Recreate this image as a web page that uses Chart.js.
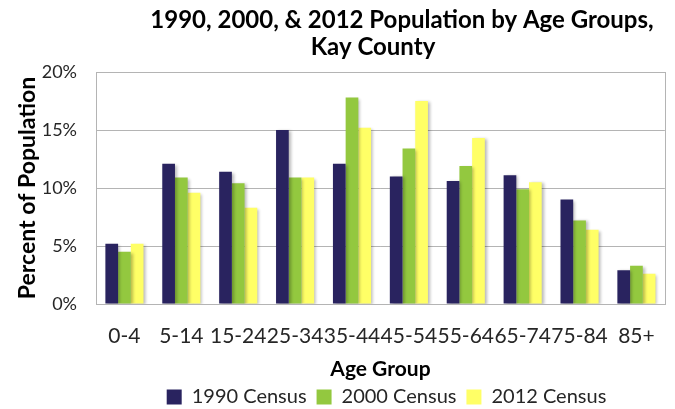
<!DOCTYPE html>
<html>
<head>
<meta charset="utf-8">
<script src="https://cdn.jsdelivr.net/npm/chart.js@4/dist/chart.umd.min.js"></script>
<style>
  html, body { margin: 0; padding: 0; background: #ffffff; }
  #wrap { width: 675px; height: 409px; }
</style>
</head>
<body>
<div id="wrap"><canvas id="chart" width="675" height="409"></canvas></div>
<script>
// Age groups and share of population (%) for each census
const ageGroups = ['0-4', '5-14', '15-24', '25-34', '35-44', '45-54', '55-64', '65-74', '75-84', '85+'];
const census1990 = [5.2, 12.1, 11.4, 15.0, 12.1, 11.0, 10.6, 11.1, 9.0, 2.9];
const census2000 = [4.5, 10.9, 10.4, 10.9, 17.8, 13.4, 11.9, 9.9, 7.2, 3.3];
const census2012 = [5.2, 9.6, 8.3, 10.9, 15.2, 17.5, 14.3, 10.5, 6.4, 2.6];
const yTicks = [0, 5, 10, 15, 20];

const titleLines = ['1990, 2000, & 2012 Population by Age Groups,', 'Kay County'];
const FONT = 'Lato, "Open Sans", sans-serif';
const TEXT = '#262626';

// Two-line chart heading
const headingPlugin = {
  id: 'heading',
  afterDraw(chart) {
    const ctx = chart.ctx;
    ctx.save();
    ctx.fillStyle = '#000000';
    ctx.font = 'bold 24px ' + FONT;
    ctx.textAlign = 'center';
    ctx.textBaseline = 'alphabetic';
    ctx.fillText(titleLines[0], 402, 28);
    ctx.fillText(titleLines[1], 373, 55);
    ctx.restore();
  }
};

// Place the legend row under the axis title
const legendShift = {
  id: 'legendShift',
  afterLayout(chart) {
    const lg = chart.legend;
    if (!lg) return;
    const dx = 52, dy = 10;
    lg.left += dx; lg.right += dx;
    lg.top += dy; lg.bottom += dy;
  }
};

// Soft shadow behind the bars and a frame round the plot area
const framePlugin = {
  id: 'frame',
  beforeDatasetsDraw(chart) {
    const ctx = chart.ctx;
    ctx.save();
    ctx.shadowColor = 'rgba(0,0,0,0.28)';
    ctx.shadowBlur = 3;
    ctx.shadowOffsetX = 2;
    ctx.shadowOffsetY = 1;
  },
  afterDatasetsDraw(chart) {
    chart.ctx.restore();
    const a = chart.chartArea;
    const ctx = chart.ctx;
    ctx.save();
    ctx.strokeStyle = '#B4B4B4';
    ctx.lineWidth = 1;
    ctx.strokeRect(Math.round(a.left) + 0.5, Math.round(a.top) + 0.5,
                   Math.round(a.right - a.left), Math.round(a.bottom - a.top));
    ctx.restore();
  }
};

new Chart(document.getElementById('chart'), {
  type: 'bar',
  data: {
    labels: ageGroups,
    datasets: [
      { label: '1990 Census', data: census1990, backgroundColor: '#29235F' },
      { label: '2000 Census', data: census2000, backgroundColor: '#93C83F' },
      { label: '2012 Census', data: census2012, backgroundColor: '#FFFF66' }
    ]
  },
  options: {
    responsive: false,
    animation: false,
    layout: { padding: { top: 72, left: 0, right: 6, bottom: 2 } },
    datasets: { bar: { categoryPercentage: 0.67, barPercentage: 1.0 } },
    plugins: {
      title: { display: false },
      tooltip: { enabled: false },
      legend: {
        position: 'bottom',
        labels: {
          boxWidth: 15, boxHeight: 15, padding: 10,
          color: TEXT,
          font: { family: FONT, size: 20 }
        }
      }
    },
    scales: {
      x: {
        grid: { display: false, drawTicks: false },
        border: { color: '#B4B4B4' },
        ticks: {
          autoSkip: false, maxRotation: 0, minRotation: 0,
          padding: 20, color: TEXT,
          font: { family: FONT, size: 21 }
        },
        title: {
          display: true, text: 'Age Group', color: '#000000',
          font: { family: FONT, size: 21, weight: 'bold' },
          padding: { top: 0, bottom: -15 }
        },
        afterFit(scale) { scale.height = 63; }
      },
      y: {
        min: 0, max: 20,
        afterBuildTicks(scale) { scale.ticks = yTicks.map(v => ({ value: v })); },
        grid: { color: '#B4B4B4', lineWidth: 1, drawTicks: false },
        border: { color: '#B4B4B4' },
        ticks: {
          padding: 19, color: TEXT,
          font: { family: FONT, size: 18 },
          callback: v => v + '%'
        },
        title: {
          display: true, text: 'Percent of Population', color: '#000000',
          font: { family: FONT, size: 23, weight: 'bold' },
          padding: { top: 14, bottom: 0 }
        },
        afterFit(scale) { scale.width = 96; }
      }
    }
  },
  plugins: [headingPlugin, legendShift, framePlugin]
});
</script>
</body>
</html>
